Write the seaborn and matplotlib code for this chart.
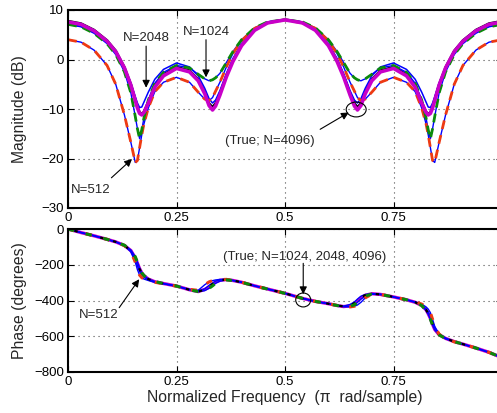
import numpy as np
import matplotlib
matplotlib.use("Agg")
import matplotlib.pyplot as plt
from matplotlib.patches import Ellipse
import seaborn as sns

# ---------------- data ----------------
freq = [0, 0.03, 0.06, 0.09, 0.11, 0.13, 0.145, 0.155, 0.16, 0.165, 0.17, 0.175, 0.185, 0.2,
        0.22, 0.25, 0.28, 0.3, 0.315, 0.325, 0.333, 0.34, 0.35, 0.365, 0.38, 0.4, 0.43, 0.46,
        0.5,
        0.54, 0.57, 0.6, 0.62, 0.635, 0.65, 0.66, 0.667, 0.675, 0.685, 0.7, 0.72, 0.75, 0.78,
        0.8, 0.815, 0.825, 0.83, 0.835, 0.84, 0.845, 0.855, 0.87, 0.89, 0.91, 0.94, 0.97, 1.0]

mag_true = [7.8, 7.3, 6.0, 3.9, 1.8, -1.5, -5.0, -8.0, -9.5, -10.6, -11.0, -10.5, -8.5, -5.3,
            -3.0, -1.5, -2.2, -4.0, -6.5, -8.8, -9.6, -8.8, -6.8, -3.2, -0.2, 3.0, 6.0, 7.5,
            8.1,
            7.5, 6.0, 3.0, -0.2, -3.2, -6.8, -8.8, -9.6, -8.8, -6.5, -4.0, -2.2, -1.5, -3.0,
            -5.3, -8.5, -10.5, -11.0, -10.6, -9.5, -8.0, -5.0, -1.5, 1.8, 3.9, 6.0, 7.3, 7.8]
mag_4096 = [7.6, 7.1, 5.8, 3.7, 1.6, -1.7, -5.2, -8.3, -9.8, -10.9, -11.2, -10.7, -8.8, -5.6,
            -3.3, -1.8, -2.5, -4.3, -6.9, -9.3, -10.2, -9.4, -7.2, -3.5, -0.4, 2.8, 5.9, 7.4,
            8.0,
            7.4, 5.9, 2.8, -0.4, -3.5, -7.2, -9.4, -10.2, -9.3, -6.9, -4.3, -2.5, -1.8, -3.3,
            -5.6, -8.8, -10.7, -11.2, -10.9, -9.8, -8.3, -5.2, -1.7, 1.6, 3.7, 5.8, 7.1, 7.6]
mag_2048 = [7.1, 6.7, 5.5, 3.5, 1.5, -1.6, -4.8, -7.5, -8.8, -9.7, -9.6, -8.6, -6.6, -4.0,
            -2.0, -0.7, -1.5, -3.3, -5.8, -7.9, -8.8, -8.2, -6.3, -2.8, 0.2, 3.2, 6.2, 7.6,
            8.1,
            7.6, 6.2, 3.2, 0.2, -2.8, -6.3, -8.2, -8.8, -7.9, -5.8, -3.3, -1.5, -0.7, -2.0,
            -4.0, -6.6, -8.6, -9.6, -9.7, -8.8, -7.5, -4.8, -1.6, 1.5, 3.5, 5.5, 6.7, 7.1]
mag_1024 = [7.1, 6.6, 5.3, 3.2, 1.0, -2.5, -6.8, -11.5, -14.0, -16.0, -14.2, -11.8, -8.2, -4.8,
            -2.6, -1.2, -1.7, -3.0, -3.9, -4.3, -4.1, -3.7, -2.8, -0.6, 1.6, 4.0, 6.4, 7.6,
            8.0,
            7.6, 6.4, 4.0, 1.6, -0.6, -2.8, -3.7, -4.1, -4.3, -3.9, -3.0, -1.7, -1.2, -2.6,
            -4.8, -8.2, -11.8, -14.2, -16.0, -14.0, -11.5, -6.8, -2.5, 1.0, 3.2, 5.3, 6.6, 7.1]
mag_512 = [4.0, 3.5, 1.9, -1.2, -5.0, -11.2, -16.8, -20.8, -20.4, -17.8, -15.2, -13.0, -9.8, -6.5,
           -4.6, -3.6, -4.6, -6.6, -8.0, -8.3, -7.7, -6.4, -4.6, -1.5, 1.2, 3.8, 6.3, 7.4,
           8.0,
           7.4, 6.3, 3.8, 1.2, -1.5, -4.6, -6.4, -7.7, -8.3, -8.0, -6.6, -4.6, -3.6, -4.6,
           -6.5, -9.8, -13.0, -15.2, -17.8, -20.4, -20.8, -16.8, -11.2, -5.0, -1.2, 1.9, 3.5, 4.0]

ph_true = [0, -20, -38, -58, -72, -92, -122, -165, -195, -225, -248, -262, -280, -295,
           -305, -319, -340, -350, -340, -322, -308, -296, -286, -283, -288, -298, -318, -336,
           -360,
           -388, -405, -418, -428, -433, -428, -415, -400, -383, -370, -362, -366, -380, -396,
           -410, -428, -452, -472, -498, -530, -560, -590, -612, -630, -644, -666, -690, -720]
ph_4096 = [0, -20, -38, -58, -72, -92, -121, -163, -192, -222, -246, -261, -280, -295,
           -305, -319, -340, -350, -338, -325, -310, -297, -287, -283, -288, -298, -318, -336,
           -360,
           -388, -405, -418, -428, -434, -430, -418, -402, -385, -371, -362, -366, -380, -396,
           -410, -428, -452, -474, -500, -533, -562, -591, -612, -630, -644, -666, -690, -720]
ph_2048 = [0, -20, -38, -58, -72, -93, -125, -172, -205, -238, -258, -270, -284, -296,
           -306, -320, -340, -348, -335, -315, -302, -292, -285, -283, -288, -298, -318, -336,
           -360,
           -388, -405, -418, -428, -432, -422, -408, -392, -376, -366, -361, -366, -380, -396,
           -410, -428, -448, -465, -490, -522, -552, -586, -610, -630, -644, -666, -690, -720]
ph_1024 = [0, -20, -38, -58, -72, -91, -118, -155, -185, -218, -245, -260, -279, -294,
           -305, -319, -340, -350, -345, -332, -318, -304, -292, -285, -288, -298, -318, -336,
           -360,
           -388, -405, -418, -428, -434, -432, -424, -410, -392, -375, -364, -366, -380, -396,
           -410, -428, -456, -478, -505, -538, -565, -592, -613, -630, -644, -666, -690, -720]
ph_512 = [0, -20, -38, -58, -72, -93, -128, -185, -228, -258, -272, -280, -288, -298,
          -306, -320, -338, -343, -312, -296, -289, -285, -282, -282, -288, -298, -318, -336,
          -360,
          -388, -405, -418, -428, -434, -436, -432, -425, -410, -385, -365, -366, -380, -396,
          -408, -420, -436, -448, -468, -505, -545, -588, -614, -631, -644, -666, -690, -720]

xticks = [0, 0.25, 0.5, 0.75]
xticklabels = ["0", "0.25", "0.5", "0.75"]
mag_ticks = [-30, -20, -10, 0, 10]
ph_ticks = [-800, -600, -400, -200, 0]

# ---------------- styling ----------------
sns.set_style("ticks")
plt.rcParams["font.family"] = ["Liberation Sans", "DejaVu Sans"]
plt.rcParams["axes.unicode_minus"] = True

RED = "#ee3a12"
GREEN = "#0a8a0a"
BLUE = "#0000ff"
MAG = "#c800c8"

fig = plt.figure(figsize=(4.97, 4.13), dpi=100)
W, H = 497.0, 413.0
ax1 = fig.add_axes([68 / W, (H - 208) / H, 434 / W, 198 / H])
ax2 = fig.add_axes([68 / W, (H - 372) / H, 434 / W, 143 / H])

KW = dict(sort=False, estimator=None, errorbar=None, legend=False)


def draw_mag(ax, t, m4, m2, m1, m5):
    sns.lineplot(x=freq, y=t, color="black", lw=1.6, ax=ax, **KW)
    sns.lineplot(x=freq, y=m5, color=BLUE, lw=1.0, ax=ax, **KW)
    sns.lineplot(x=freq, y=m1, color=BLUE, lw=1.0, ax=ax, **KW)
    sns.lineplot(x=freq, y=m2, color=BLUE, lw=1.1, ax=ax, **KW)
    sns.lineplot(x=freq, y=m5, color=RED, lw=2.0, ax=ax, **KW)
    ax.lines[-1].set_dashes((3.2, 2.2))
    sns.lineplot(x=freq, y=m1, color=GREEN, lw=2.0, ax=ax, **KW)
    ax.lines[-1].set_dashes((3.2, 2.2))
    sns.lineplot(x=freq, y=m4, color=MAG, lw=2.6, ax=ax, **KW)


def draw_phase(ax, t, m4, m2, m1, m5):
    sns.lineplot(x=freq, y=m4, color=MAG, lw=2.4, ax=ax, **KW)
    sns.lineplot(x=freq, y=m5, color=BLUE, lw=1.0, ax=ax, **KW)
    sns.lineplot(x=freq, y=m1, color=BLUE, lw=1.0, ax=ax, **KW)
    sns.lineplot(x=freq, y=m2, color=BLUE, lw=1.0, ax=ax, **KW)
    sns.lineplot(x=freq, y=t, color="black", lw=1.6, ax=ax, **KW)
    ax.lines[-1].set_dashes((1.5, 4.0))
    sns.lineplot(x=freq, y=m5, color=RED, lw=2.2, ax=ax, **KW)
    ax.lines[-1].set_dashes((2.0, 4.0))
    sns.lineplot(x=freq, y=m1, color=GREEN, lw=2.2, ax=ax, **KW)
    ax.lines[-1].set_dashes((2.0, 4.0))
    ax.lines[-1].set_dashes = None


draw_mag(ax1, mag_true, mag_4096, mag_2048, mag_1024, mag_512)
draw_phase(ax2, ph_true, ph_4096, ph_2048, ph_1024, ph_512)
# shift the green dashes so the red and green dashes alternate
ax2.lines[-1].set_linestyle((6.0, (2.0, 4.0)))
ax2.lines[-2].set_linestyle((0.0, (2.0, 4.0)))
ax2.lines[-3].set_linestyle((3.0, (1.5, 4.5)))

for ax, yt, ylab in ((ax1, mag_ticks, "Magnitude (dB)"), (ax2, ph_ticks, "Phase (degrees)")):
    ax.set_xlim(0, 1)
    ax.set_ylim(yt[0], yt[-1])
    ax.set_xticks(xticks)
    ax.set_xticklabels(xticklabels)
    ax.set_yticks(yt)
    ax.set_yticklabels([str(v).replace("-", "\u2212") for v in yt])
    ax.tick_params(direction="in", length=4, width=0.8, top=True, right=True,
                   labelsize=9.5, pad=3, colors="black")
    ax.grid(True, color="0.3", linestyle=(0, (1, 3.5)), linewidth=0.8)
    for s in ax.spines.values():
        s.set_linewidth(1.5)
        s.set_color("black")
    ax.set_ylabel(ylab, fontsize=11.3)
    ax.yaxis.set_label_coords(-0.0945, 0.5)
    ax.set_xlabel("")

ax2.set_xlabel("Normalized Frequency  (\u03c0  rad/sample)", fontsize=11.3)
ax2.xaxis.set_label_coords(0.5, -0.125)

arr = dict(arrowstyle="-|>", color="black", lw=0.8, mutation_scale=11, shrinkA=0, shrinkB=0)
fs = 9.5

# top annotations
ax1.annotate("", xy=(0.18, -5.7), xytext=(0.18, 2.7), arrowprops=arr)
ax1.text(0.18, 4.4, "N=2048", ha="center", va="center", fontsize=fs)
ax1.annotate("", xy=(0.318, -3.6), xytext=(0.318, 4.0), arrowprops=arr)
ax1.text(0.318, 5.5, "N=1024", ha="center", va="center", fontsize=fs)
ax1.annotate("", xy=(0.1475, -20.1), xytext=(0.10, -23.9), arrowprops=arr)
ax1.text(0.053, -26.3, "N=512", ha="center", va="center", fontsize=fs)
ax1.annotate("", xy=(0.647, -10.7), xytext=(0.581, -14.1), arrowprops=arr)
ax1.text(0.466, -16.4, "(True; N=4096)", ha="center", va="center", fontsize=fs)
ax1.add_patch(Ellipse((0.664, -10.1), 0.046, 3.0, fill=False, ec="black", lw=0.8, zorder=5))

# bottom annotations
ax2.annotate("", xy=(0.164, -281), xytext=(0.118, -440), arrowprops=arr)
ax2.text(0.071, -481, "N=512", ha="center", va="center", fontsize=fs)
ax2.annotate("", xy=(0.542, -365), xytext=(0.542, -192), arrowprops=arr)
ax2.text(0.546, -158, "(True; N=1024, 2048, 4096)", ha="center", va="center", fontsize=fs)
ax2.add_patch(Ellipse((0.542, -397), 0.0346, 78, fill=False, ec="black", lw=0.8, zorder=5))

fig.savefig("out.png", dpi=100)
